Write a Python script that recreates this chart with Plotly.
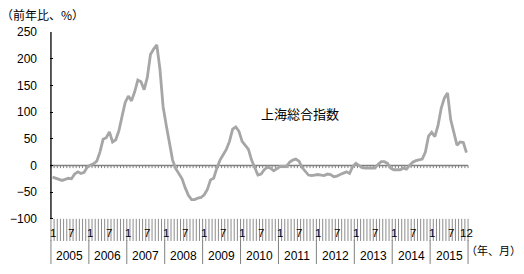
import plotly.graph_objects as go

# Monthly data, Jan 2005 .. Dec 2015 (index 0..131)
years = [str(y) for y in range(2005, 2016)]
month_labels = ["1", "7"]
yoy = [
    -22, -24, -27, -28, -26, -24, -25, -16, -12, -15, -13, -3,      # 2005
    1, 3, 8, 25, 49, 52, 63, 44, 48, 65, 92, 118,                   # 2006
    130, 121, 138, 160, 157, 142, 165, 208, 218, 226, 180, 110,     # 2007
    75, 45, 10, -6, -15, -25, -42, -56, -64, -64, -61, -60,         # 2008
    -55, -45, -27, -24, -5, 10, 20, 30, 45, 68, 72, 64,             # 2009
    45, 37, 30, 10, -5, -18, -16, -8, -3, -5, -10, -6,              # 2010
    -2, -2, -2, 6, 10, 12, 8, -4, -12, -18, -19, -18,               # 2011
    -17, -18, -19, -16, -17, -21, -20, -17, -14, -12, -15, -2,      # 2012
    4, 0, -4, -5, -5, -5, -5, 2, 7, 7, 4, -5,                       # 2013
    -8, -8, -8, -5, -7, 0, 6, 9, 10, 12, 25, 55,                    # 2014
    62, 54, 75, 107, 126, 136, 86, 62, 38, 44, 43, 24,              # 2015
]
y_ticks = [250, 200, 150, 100, 50, 0, -50, -100]
series_name = "上海総合指数"

months = list(range(len(yoy)))
n_months = 132

Y_BOTTOM = -184.6
BAND_BOTTOM = -141.5
SEP_TOP = -139.7
MONTH_LBL_Y = -126.6
YEAR_LBL_Y = -168.7

fig = go.Figure()
fig.add_trace(go.Scatter(
    x=months, y=yoy, mode="lines", name=series_name,
    line=dict(color="#A6A6A6", width=2.8), showlegend=False,
))

shapes = []
# y axis line
shapes.append(dict(type="line", xref="x", yref="y", x0=-0.5, x1=-0.5,
                   y0=-100, y1=250, line=dict(color="black", width=1.3)))
# zero line
shapes.append(dict(type="line", xref="x", yref="y", x0=-0.5, x1=n_months - 0.5,
                   y0=0, y1=0, line=dict(color="#808080", width=1.5), layer="below"))
for k in range(n_months + 1):
    xb = k - 0.5
    # small ticks below zero line
    shapes.append(dict(type="line", xref="x", yref="y", x0=xb, x1=xb, y0=0, y1=-5,
                       line=dict(color="#808080", width=1), layer="below"))
    # band lines
    shapes.append(dict(type="line", xref="x", yref="y", x0=xb, x1=xb, y0=-100, y1=BAND_BOTTOM,
                       line=dict(color="#8C8C8C", width=1), layer="below"))
# year separators
for k in range(len(years) + 1):
    xb = 12 * k - 0.5
    shapes.append(dict(type="line", xref="x", yref="y", x0=xb, x1=xb, y0=SEP_TOP, y1=Y_BOTTOM,
                       line=dict(color="#808080", width=1)))

annotations = []
num_font = dict(family="Liberation Sans, Arial", size=12, color="black")
for k, yr in enumerate(years):
    annotations.append(dict(x=12 * k + 5.5, y=YEAR_LBL_Y, xref="x", yref="y", text=yr,
                            showarrow=False, font=num_font))
    for j, ml in enumerate(month_labels):
        annotations.append(dict(x=12 * k + 6 * j, y=MONTH_LBL_Y, xref="x", yref="y", text=ml,
                                showarrow=False, font=dict(family="Liberation Sans, Arial", size=11.5, color="black")))
annotations.append(dict(x=n_months - 1, y=MONTH_LBL_Y, xref="x", yref="y", text="12",
                        showarrow=False, font=dict(family="Liberation Sans, Arial", size=11.5, color="black")))
cjk = "Noto Sans CJK JP"
annotations.append(dict(x=0, y=1.0, xref="paper", yref="paper", xanchor="left", yanchor="middle",
                        text="（前年比、%）", showarrow=False, font=dict(family=cjk, size=12, color="black"),
                        xshift=-51, yshift=18))
annotations.append(dict(x=78.3, y=98, xref="x", yref="y", text=series_name, showarrow=False,
                        font=dict(family=cjk, size=13, color="black")))
annotations.append(dict(x=1.0, y=-158, xref="paper", yref="y", xanchor="right", text="（年、月）",
                        showarrow=False, font=dict(family=cjk, size=11, color="black"), xshift=54))

fig.update_layout(
    width=524, height=274,
    margin=dict(l=50, r=55, t=32, b=10),
    plot_bgcolor="white", paper_bgcolor="white",
    xaxis=dict(range=[-0.8, n_months - 0.2], showgrid=False, zeroline=False, showline=False,
               showticklabels=False, ticks="", fixedrange=True),
    yaxis=dict(range=[Y_BOTTOM, 250], showgrid=False, zeroline=False, showline=False,
               tickvals=y_ticks, ticktext=[("−" + str(-v)) if v < 0 else str(v) for v in y_ticks],
               ticks="inside", ticklen=3, tickcolor="black", tickwidth=1.3,
               tickfont=num_font, ticklabelstandoff=12),
    shapes=shapes, annotations=annotations,
)

fig.write_html("out.html")
